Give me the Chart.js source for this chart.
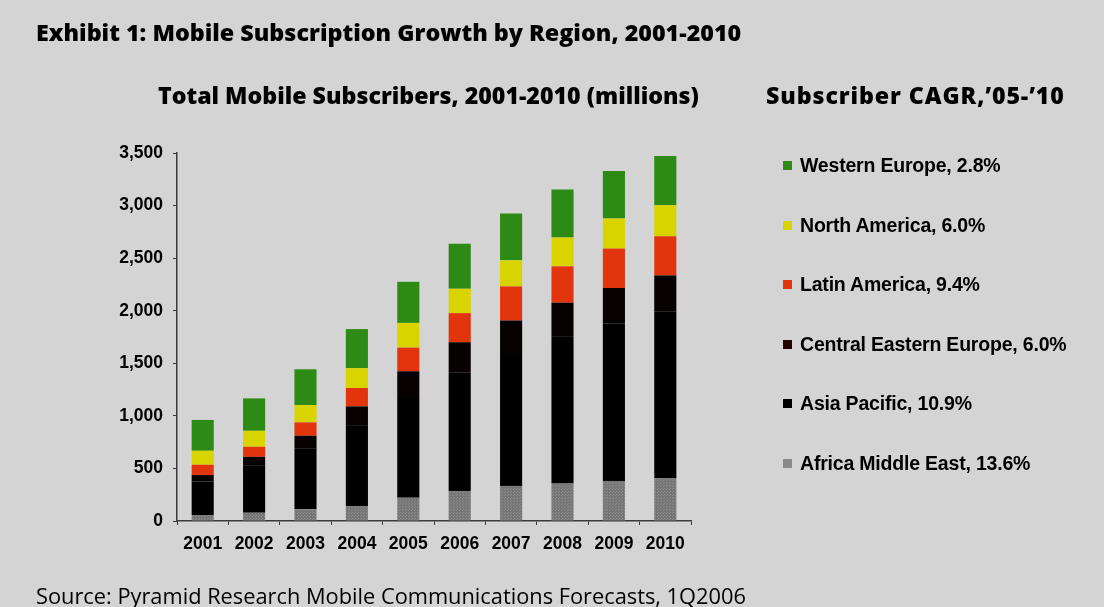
<!DOCTYPE html>
<html>
<head>
<meta charset="utf-8">
<script src="https://cdn.jsdelivr.net/npm/chart.js@4.4.1/dist/chart.umd.min.js"></script>
<style>
  html, body { margin: 0; padding: 0; }
  body {
    width: 1104px; height: 607px; position: relative; overflow: hidden;
    background: #d4d4d4; font-family: "Liberation Sans", Arial, sans-serif;
  }
  #chart { position: absolute; left: 0; top: 0; }
  .txt { position: absolute; white-space: nowrap; color: #000; }
  #exhibit { left: 36px; top: 16px; font: 800 23.3px "Open Sans", sans-serif; }
  #subtitle { left: 158px; top: 79px; font: 800 23.2px "Open Sans", sans-serif; }
  #cagrTitle { left: 766px; top: 79px; font: 800 23.2px "Open Sans", sans-serif; letter-spacing: 0.9px; }
  #source { left: 36px; top: 581px; font: 21.8px "Open Sans", sans-serif; }
  #legend { position: absolute; left: 783px; top: 154px; }
  .item { height: 59.5px; display: flex; align-items: flex-start; }
  .sw { width: 9px; height: 9px; margin-top: 7px; margin-right: 8px; }
  .lbl { font: bold 19.5px "Liberation Sans", Arial, sans-serif; line-height: 22px; letter-spacing: -0.2px; }
</style>
</head>
<body>
<canvas id="chart" width="1104" height="607"></canvas>
<div class="txt" id="exhibit">Exhibit 1: Mobile Subscription Growth by Region, 2001-2010</div>
<div class="txt" id="subtitle">Total Mobile Subscribers, 2001-2010 (millions)</div>
<div class="txt" id="cagrTitle">Subscriber CAGR,’05-’10</div>
<div id="legend"></div>
<div class="txt" id="source">Source: Pyramid Research Mobile Communications Forecasts, 1Q2006</div>

<script>
// Years on the x axis
var years = ['2001', '2002', '2003', '2004', '2005', '2006', '2007', '2008', '2009', '2010'];

// Subscribers by region, millions (bottom of stack first)
var africaMiddleEast = [57, 79, 111, 143, 222, 286, 334, 356, 381, 407];
var asiaPacific = [320, 446, 580, 762, 947, 1124, 1263, 1395, 1500, 1588];
var centralEasternEurope = [60, 85, 120, 185, 255, 290, 310, 325, 335, 341];
var latinAmerica = [98, 96, 127, 175, 225, 277, 324, 346, 375, 372];
var northAmerica = [133, 152, 165, 188, 235, 232, 248, 274, 286, 296];
var westernEurope = [293, 308, 340, 372, 391, 429, 446, 458, 451, 467];

// Region names and CAGR '05-'10 for the legend
var regionNames = ['Africa Middle East', 'Asia Pacific', 'Central Eastern Europe', 'Latin America', 'North America', 'Western Europe'];
var regionCagr = ['13.6%', '10.9%', '6.0%', '9.4%', '6.0%', '2.8%'];

// y axis ticks
var yMax = 3500;
var yStep = 500;

// dotted grey fill for Africa Middle East
function dottedGrey() {
    var c = document.createElement('canvas');
    c.width = 3; c.height = 3;
    var g = c.getContext('2d');
    g.fillStyle = '#767676';
    g.fillRect(0, 0, 3, 3);
    g.fillStyle = '#8c8c8c';
    g.fillRect(0, 0, 1, 1);
    g.fillRect(1, 2, 1, 1);
    return document.getElementById('chart').getContext('2d').createPattern(c, 'repeat');
}

var colors = [dottedGrey(), '#000000', '#070101', '#e2350e', '#d9d300', '#2d8a14'];
var swatchColors = ['#8a8a8a', '#000000', '#220606', '#e2350e', '#d9d300', '#2d8a14'];
var seriesData = [africaMiddleEast, asiaPacific, centralEasternEurope, latinAmerica, northAmerica, westernEurope];

var datasets = seriesData.map(function (d, i) {
    return {
        label: regionNames[i],
        data: d,
        backgroundColor: colors[i],
        borderWidth: 0,
        barPercentage: 0.43,
        categoryPercentage: 1.0
    };
});

// Legend, top to bottom = top of stack first
var legend = document.getElementById('legend');
for (var i = regionNames.length - 1; i >= 0; i--) {
    var item = document.createElement('div');
    item.className = 'item';
    item.innerHTML = '<div class="sw" style="background:' + swatchColors[i] + '"></div>' +
        '<div class="lbl">' + regionNames[i] + ', ' + regionCagr[i] + '</div>';
    legend.appendChild(item);
}

var tickFont = { family: '"Liberation Sans", Arial, sans-serif', size: 17.5, weight: 'bold' };

var ctx = document.getElementById('chart').getContext('2d');
var subscribersChart = new Chart(ctx, {
    type: 'bar',
    data: {
        labels: years,
        datasets: datasets
    },
    options: {
        responsive: false,
        animation: false,
        layout: {
            padding: { left: 107, right: 413, top: 153, bottom: 46 }
        },
        plugins: {
            legend: { display: false },
            tooltip: { enabled: false }
        },
        scales: {
            x: {
                stacked: true,
                afterFit: function (scale) { scale.height = 40; },
                border: { color: '#3a3a3a', width: 1.5 },
                grid: {
                    offset: true,
                    drawOnChartArea: false,
                    tickLength: 4,
                    color: '#3a3a3a'
                },
                ticks: {
                    color: '#000',
                    padding: 9,
                    font: tickFont
                }
            },
            y: {
                stacked: true,
                min: 0,
                max: yMax,
                afterFit: function (scale) { scale.width = 70; },
                border: { color: '#3a3a3a', width: 1.5 },
                grid: {
                    drawOnChartArea: false,
                    tickLength: 4,
                    color: '#3a3a3a'
                },
                ticks: {
                    stepSize: yStep,
                    color: '#000',
                    padding: 10,
                    font: tickFont,
                    callback: function (value) {
                        return value.toLocaleString('en-US');
                    }
                }
            }
        }
    }
});
</script>
</body>
</html>
